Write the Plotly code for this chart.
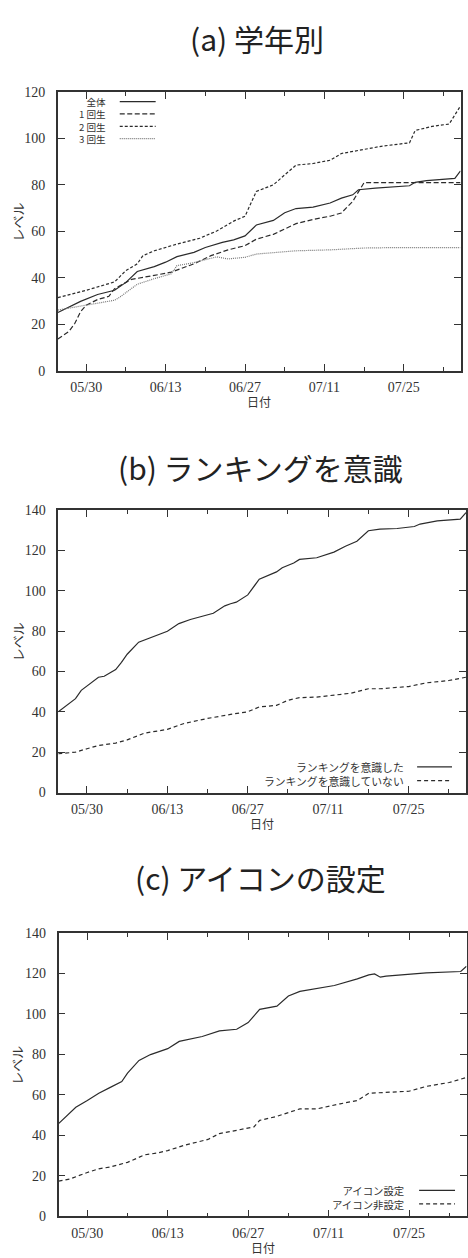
import plotly.graph_objects as go

YEAR = 2016
W, H = 468, 1258

# ---------------- (a) 学年別 ----------------
grade_all_dates = ["05/25", "05/29", "06/01", "06/04", "06/06", "06/08", "06/11", "06/13", "06/15",
                   "06/18", "06/20", "06/23", "06/25", "06/27", "06/29", "07/02", "07/04", "07/06",
                   "07/09", "07/12", "07/14", "07/16", "07/17", "07/20", "07/26", "07/27", "07/29",
                   "08/03", "08/04"]
grade_all = [25, 29.8, 32.8, 34.6, 38, 42.7, 44.8, 46.7, 49.1,
             50.9, 53, 55.2, 56.3, 58, 62.7, 64.7, 68, 69.8,
             70.4, 72.2, 74.3, 75.7, 77.9, 78.6, 79.6, 81.1, 81.8,
             82.8, 86]

grade1_dates = ["05/25", "05/27", "05/28", "05/29", "05/30", "06/01", "06/03", "06/04", "06/07",
                "06/09", "06/11", "06/14", "06/18", "06/21", "06/24", "06/27", "06/29", "07/02",
                "07/04", "07/06", "07/09", "07/12", "07/14", "07/16", "07/18", "07/26", "08/04"]
grade1 = [13.6, 17, 20.4, 25.4, 28.2, 30.6, 32, 35.3, 39.3,
          40.3, 41, 42.4, 46, 49.5, 52, 53.8, 56.6, 58.7,
          60.9, 63.3, 65.1, 66.5, 67.9, 72.9, 81, 81, 81]

grade2_dates = ["05/25", "05/30", "06/04", "06/06", "06/08", "06/09", "06/11", "06/15", "06/19",
                "06/22", "06/25", "06/27", "06/29", "07/02", "07/04", "07/06", "07/09", "07/12",
                "07/14", "07/17", "07/21", "07/26", "07/27", "07/30", "08/02", "08/04"]
grade2 = [31.4, 34.6, 38.2, 43.1, 46, 49.5, 51.6, 54.5, 57,
          60.1, 64.4, 66.5, 77.2, 80, 84.3, 88.5, 89.2, 90.6,
          93.5, 94.9, 96.6, 98.1, 103.4, 105.2, 106.2, 114]

grade3_dates = ["05/25", "05/29", "06/01", "06/04", "06/05", "06/08", "06/11", "06/14", "06/15",
                "06/18", "06/22", "06/24", "06/27", "06/29", "07/06", "07/12", "07/18", "07/24",
                "08/04"]
grade3 = [26.1, 27.8, 29.2, 30.3, 31.8, 37.2, 39.6, 41.7, 45.2,
          46.5, 49, 48.1, 48.8, 50.2, 51.6, 52, 52.8, 53,
          53]

# ---------------- (b) ランキングを意識 ----------------
rank_yes_dates = ["05/25", "05/28", "05/29", "05/31", "06/01", "06/02", "06/04", "06/05", "06/06",
                  "06/08", "06/10", "06/13", "06/15", "06/17", "06/21", "06/23", "06/24", "06/25",
                  "06/27", "06/28", "06/29", "07/02", "07/03", "07/05", "07/06", "07/09", "07/12",
                  "07/14", "07/16", "07/18", "07/20", "07/23", "07/25", "07/26", "07/27", "07/30",
                  "08/03", "08/04"]
rank_yes = [40.0, 46.5, 50.6, 54.7, 57.1, 57.6, 60.9, 64.5, 68.5,
            74.5, 76.6, 79.9, 83.7, 85.7, 88.8, 92.5, 93.5, 94.3,
            97.9, 101.6, 105.7, 109.3, 111.4, 113.7, 115.5, 116.3, 119.1,
            122.0, 124.5, 129.7, 130.5, 130.8, 131.3, 131.8, 133.0, 134.6,
            135.4, 138.7]

rank_no_dates = ["05/25", "05/28", "05/30", "06/01", "06/04", "06/06", "06/09", "06/13", "06/16",
                 "06/20", "06/24", "06/27", "06/29", "07/02", "07/04", "07/06", "07/09", "07/15",
                 "07/18", "07/20", "07/25", "07/28", "08/01", "08/04"]
rank_no = [19.2, 20.0, 21.7, 23.3, 24.5, 26.1, 29.4, 31.3, 34.3,
           36.7, 38.7, 40.0, 42.4, 43.2, 45.7, 47.0, 47.3, 49.2,
           51.4, 51.4, 52.5, 54.3, 55.5, 57.1]

# ---------------- (c) アイコンの設定 ----------------
icon_yes_dates = ["05/25", "05/28", "05/30", "06/01", "06/03", "06/05", "06/06", "06/08", "06/10",
                  "06/13", "06/15", "06/19", "06/22", "06/25", "06/27", "06/29", "07/02", "07/04",
                  "07/06", "07/09", "07/12", "07/16", "07/18", "07/19", "07/20", "07/21", "07/25",
                  "07/28", "08/03", "08/04"]
icon_yes = [45.8, 53.9, 57.2, 60.8, 63.7, 66.6, 70.7, 77.0, 79.9,
            82.8, 86.4, 88.8, 91.6, 92.4, 95.7, 102.2, 103.8, 108.8,
            111.1, 112.4, 114.0, 117.3, 119.2, 119.7, 118.1, 118.6, 119.5,
            120.2, 120.9, 123.5]

icon_no_dates = ["05/25", "05/27", "05/30", "06/01", "06/03", "06/06", "06/09", "06/11", "06/13",
                 "06/16", "06/20", "06/22", "06/25", "06/28", "06/29", "07/02", "07/06", "07/09",
                 "07/13", "07/16", "07/18", "07/22", "07/25", "07/28", "07/30", "08/01", "08/04"]
icon_no = [17.4, 18.5, 21.7, 23.5, 24.4, 26.7, 30.4, 31.2, 32.5,
           35.2, 38.0, 40.9, 42.5, 44.2, 47.4, 49.4, 53.1, 53.1,
           55.6, 57.2, 60.8, 61.3, 61.8, 64.2, 65.3, 66.1, 68.6]

panel_titles = ["(a) 学年別", "(b) ランキングを意識", "(c) アイコンの設定"]
x_title = "日付"
y_title = "レベル"
date_start, date_end = "05/25", "08/04"


def iso(mmdd):
    return [f"{YEAR}-{s.replace('/', '-')}" for s in mmdd]


def px(x, y):
    """Pixel position on the page -> paper coordinates."""
    return x / W, 1 - y / H


INK = "#2b2b2b"
SERIF = "Liberation Serif, DejaVu Serif, serif"
TICK_FONT = dict(family=SERIF, size=14, color="#333")
CJK = "Noto Sans CJK JP"

# plot-area boxes (left, top, right, bottom) in page pixels
boxes = [(58, 86, 461.5, 368), (58.4, 509, 467, 795), (58.7, 937, 467.5, 1224)]
y_max = [120, 140, 140]
title_y = [31, 466, 880]

DASH_A1 = "5px,2.5px"
DASH_A2 = "3px,2px"
DASH_A3 = "1px,1px"
DASH_B = "4px,3px"

series = [
    # (panel, name, dates, values, dash, color)
    (0, "全体", grade_all_dates, grade_all, "solid", INK),
    (0, "1 回生", grade1_dates, grade1, DASH_A1, INK),
    (0, "2 回生", grade2_dates, grade2, DASH_A2, INK),
    (0, "3 回生", grade3_dates, grade3, DASH_A3, "#777"),
    (1, "ランキングを意識した", rank_yes_dates, rank_yes, "solid", INK),
    (1, "ランキングを意識していない", rank_no_dates, rank_no, DASH_B, INK),
    (2, "アイコン設定", icon_yes_dates, icon_yes, "solid", INK),
    (2, "アイコン非設定", icon_no_dates, icon_no, DASH_B, INK),
]

fig = go.Figure()
for p, name, d, v, dash, col in series:
    sfx = "" if p == 0 else str(p + 1)
    fig.add_trace(go.Scatter(
        x=iso(d), y=v, mode="lines", name=name, showlegend=False,
        line=dict(color=col, width=1.2, dash=dash),
        xaxis="x" + sfx, yaxis="y" + sfx,
    ))

layout = dict(
    width=W, height=H, margin=dict(l=0, r=0, t=0, b=0),
    paper_bgcolor="white", plot_bgcolor="white", showlegend=False,
)

DAY = 86400000
annotations = []
shapes = []
for i, (l, t, r, b) in enumerate(boxes):
    sfx = "" if i == 0 else str(i + 1)
    common = dict(
        showline=True, linecolor="#333", linewidth=1.5, mirror="ticks",
        ticks="inside", tickcolor="#333", tickwidth=1, ticklen=7,
        showgrid=False, zeroline=False, tickfont=TICK_FONT,
    )
    x0p, y1p = px(l, t)
    x1p, y0p = px(r, b)
    layout["xaxis" + sfx] = dict(
        common, type="date", domain=[x0p, x1p], anchor="y" + sfx,
        range=iso([date_start, date_end]), tick0=iso(["05/30"])[0], dtick=14 * DAY,
        tickformat="%m/%d", ticklabelstandoff=3,
        minor=dict(dtick=7 * DAY, tick0=iso(["05/30"])[0], ticks="inside", ticklen=4,
                   tickcolor="#333", tickwidth=1, showgrid=False),
    )
    layout["yaxis" + sfx] = dict(
        common, domain=[y0p, y1p], anchor="x" + sfx,
        range=[0, y_max[i]], dtick=20, ticklabelstandoff=8,
    )
    cx = (l + r) / 2
    # panel title
    tx, ty = px(cx - 2, title_y[i])
    annotations.append(dict(x=tx, y=ty, xref="paper", yref="paper", text=panel_titles[i],
                            showarrow=False, font=dict(family=CJK, size=30, color="#222"),
                            xanchor="center", yanchor="middle"))
    # axis titles
    ax, ay = px(cx, b + 31)
    annotations.append(dict(x=ax, y=ay, xref="paper", yref="paper", text=x_title,
                            showarrow=False, font=dict(family=CJK, size=12, color="#333"),
                            xanchor="center", yanchor="middle"))
    yx, yy = px(17, (t + b) / 2 - 10)
    annotations.append(dict(x=yx, y=yy, xref="paper", yref="paper", text=y_title,
                            textangle=-90, showarrow=False,
                            font=dict(family=CJK, size=13, color="#333"),
                            xanchor="center", yanchor="middle"))

# legends: one right-aligned text block per panel, line samples to its right
LINE_SPACING = 1.3  # plotly's multi-line text spacing (in em)
legend_cfg = {
    0: dict(text_right=108, line=(120, 156), center_y=114.5, size=9.6),
    1: dict(text_right=407, line=(418, 453), center_y=776, size=10.8),
    2: dict(text_right=407, line=(420, 456), center_y=1204.5, size=10.4),
}
for p, cfg in legend_cfg.items():
    entries = [s for s in series if s[0] == p]
    n = len(entries)
    step = LINE_SPACING * cfg["size"]
    tx, ty = px(cfg["text_right"], cfg["center_y"])
    annotations.append(dict(x=tx, y=ty, xref="paper", yref="paper",
                            text="<br>".join(s[1] for s in entries),
                            showarrow=False, xanchor="right", yanchor="middle", align="right",
                            font=dict(family=CJK, size=cfg["size"], color="#333")))
    for k, (pp, name, d, v, dash, col) in enumerate(entries):
        yrow = cfg["center_y"] + (k - (n - 1) / 2) * step
        lx0, ly = px(cfg["line"][0], yrow)
        lx1, _ = px(cfg["line"][1], yrow)
        shapes.append(dict(type="line", xref="paper", yref="paper", x0=lx0, x1=lx1,
                           y0=ly, y1=ly, line=dict(color=col, width=1.2, dash=dash)))

layout["annotations"] = annotations
layout["shapes"] = shapes
fig.update_layout(**layout)
fig.write_html("out.html")
